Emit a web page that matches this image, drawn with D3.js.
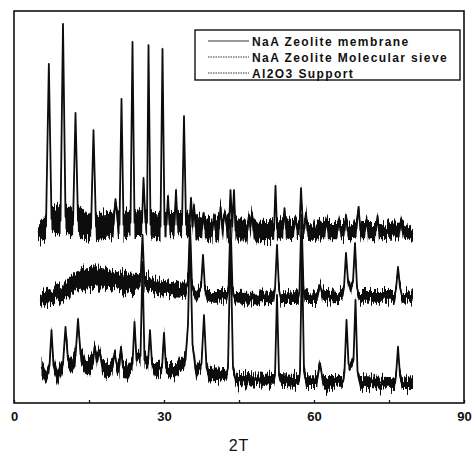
<!DOCTYPE html>
<html>
<head>
<meta charset="utf-8">
<script src="https://cdn.jsdelivr.net/npm/d3@7"></script>
<style>
  body { margin: 0; background: #fff; }
  svg { display: block; font-family: "Liberation Sans", Arial, sans-serif; }
  .axis text { font-size: 13px; font-weight: bold; fill: #111; }
  .axis line { stroke: #111; stroke-width: 1.3; }
  .legend text { font-size: 12px; font-weight: bold; letter-spacing: 1.4px; fill: #111; }
</style>
</head>
<body>
<div id="chart"></div>
<script>

// 2T tick values and labels
var xMinorTicks = [0, 15, 30, 45, 60, 75, 90]
var xTickLabels = [0, 30, 60, 90]

var seriesNames = ['NaA Zeolite membrane', 'NaA Zeolite Molecular sieve', 'Al2O3 Support']

// [2T, intensity (a.u.), noise half-width]
var upperTrace = [
  [4.8, 43.5, 2.5], [6.4, 45, 3.2], [6.97, 86.5, 0.6], [7.5, 47, 3.6], [9.3, 46.5, 3.6],
  [9.8, 96.7, 0.6], [10.3, 47.5, 3.6], [11.8, 45.5, 3.6], [12.3, 74, 0.6], [12.8, 46.5, 3.6],
  [15.4, 44.5, 3.4], [15.9, 69.6, 0.6], [16.4, 45, 3.4], [19.9, 45.5, 3.4], [20.3, 52, 0.6],
  [20.8, 45.5, 3.4], [21.1, 45.5, 3.4], [21.5, 77.6, 0.6], [21.9, 45.5, 3.4], [23.3, 46, 3.4],
  [23.7, 92.1, 0.6], [24.1, 46, 3.4], [25.6, 46, 3.4], [25.9, 57.4, 0.6], [26.3, 46, 3.2],
  [26.6, 46, 3.2], [26.9, 91.3, 0.6], [27.3, 45.5, 3.2], [29.3, 45, 3.2], [29.7, 90.3, 0.6],
  [30.1, 45.5, 3.2], [30.5, 45.5, 3.2], [30.8, 52.8, 0.6], [31.1, 45.5, 3.2], [32.1, 45.5, 3.2],
  [32.4, 54.3, 0.6], [32.7, 45.5, 3.2], [33.6, 45.5, 3.2], [34.0, 73.2, 0.6], [34.4, 45.5, 3.2],
  [35.1, 45, 3.2], [35.4, 52.3, 0.6], [35.7, 45, 3.2], [36.0, 50.5, 0.6], [36.3, 45, 3.2],
  [37.6, 44.5, 3], [37.9, 48.5, 0.8], [38.2, 44.5, 3], [39.7, 44, 3], [40.0, 48, 0.8],
  [40.3, 44, 3], [41.0, 44.5, 3], [41.3, 50, 0.8], [41.7, 44.5, 3], [42.2, 48.7, 0.8],
  [42.6, 44.5, 3], [43.0, 44.5, 3], [43.3, 54.3, 0.6], [43.65, 45, 3], [44.0, 54.3, 0.6],
  [44.3, 44, 2.8], [46.7, 44, 2.8], [47.0, 48, 0.8], [47.3, 45, 2.8], [47.6, 48.5, 0.8],
  [47.9, 44, 2.8], [52.0, 44, 2.6], [52.3, 55.4, 0.6], [52.6, 44.5, 2.6], [53.8, 44.5, 2.6],
  [54.1, 49.7, 0.8], [54.4, 44.5, 2.6], [56.0, 44.5, 2.4], [56.3, 47.4, 0.8], [56.6, 44.5, 2.4],
  [57.1, 44.5, 2.4], [57.4, 54.8, 0.6], [57.8, 44.5, 2.4], [58.1, 44.5, 2.4], [58.4, 48.5, 0.8],
  [58.7, 44, 2.4], [62.2, 44, 2.2], [62.5, 46.7, 1], [62.8, 44, 2.2], [64.7, 44, 2.2],
  [65.0, 46.9, 1], [65.3, 44, 2.2], [66.1, 44, 2.2], [66.4, 48, 0.8], [66.7, 44, 2.2],
  [68.5, 44.5, 2.2], [68.9, 50, 0.8], [69.3, 44, 2.2], [70.2, 44, 2.2], [70.5, 46.7, 1],
  [70.8, 44, 2.2], [72.4, 44, 2.2], [72.7, 47.7, 1], [73.0, 44, 2.2], [77.1, 44, 2],
  [77.4, 46.2, 1], [77.7, 44, 2], [79.8, 43, 1.6]
]

var middleTrace = [
  [5.2, 26.3, 1.8], [7.5, 27.3, 2], [9.8, 28.3, 2.3], [11, 29.6, 2.5], [12.5, 31.1, 2.7],
  [14, 31.6, 2.7], [16.5, 31.9, 2.7], [19, 31.6, 2.5], [21, 31.1, 2.5], [23, 30.6, 2.4],
  [25.3, 31, 2], [25.7, 42.9, 0.6], [26.1, 30.5, 2], [30, 29.1, 2], [34.3, 28.6, 1.8],
  [34.8, 31, 1.4], [35.2, 45.4, 0.6], [35.6, 30, 1.4], [36.2, 27.3, 1.5], [37.4, 29.5, 1.2],
  [37.8, 37.8, 0.6], [38.2, 29, 1.2], [38.6, 27.3, 1.5], [42.6, 27.3, 1.5], [42.9, 29, 1.2],
  [43.3, 46.7, 0.6], [43.7, 29, 1.2], [44.1, 26.8, 1.5], [51.9, 27, 1.5], [52.2, 29, 1.2],
  [52.6, 40.3, 0.6], [53.0, 29, 1.2], [53.3, 27, 1.5], [56.9, 27, 1.5], [57.1, 29, 1.2],
  [57.5, 48, 0.6], [57.9, 29, 1.2], [58.1, 27, 1.5], [60.7, 27, 1.5], [61.2, 30.1, 0.8],
  [61.8, 27, 1.5], [65.7, 27.3, 1.5], [66.0, 29.5, 1.2], [66.4, 38.3, 0.6], [66.8, 31, 1],
  [67.3, 28.8, 1.2], [67.8, 31, 1], [68.2, 40.8, 0.6], [68.6, 29.5, 1.2], [69.0, 27.3, 1.5],
  [76.1, 27.3, 1.5], [76.4, 29, 1.2], [76.8, 34.7, 0.6], [77.2, 29.5, 1.2], [77.6, 27.3, 1.5],
  [79.8, 27.3, 1.4]
]

var lowerTrace = [
  [5.5, 9.2, 2.2], [6.4, 6.6, 2.2], [7.1, 9.5, 1.8], [7.5, 18.6, 0.8], [7.9, 9.5, 1.8],
  [8.8, 6.6, 2.2], [9.8, 10, 2], [10.3, 19.4, 0.8], [10.8, 11, 2], [11.5, 9.8, 2.2],
  [12.3, 12, 2], [12.8, 21.4, 0.8], [13.3, 12.5, 2], [14.2, 10, 2.2], [15.1, 9.2, 2.2],
  [15.8, 10, 1.8], [16.1, 14.3, 1], [16.6, 10.5, 2], [17.1, 13.5, 1], [17.6, 9.5, 2],
  [18.4, 8.4, 2.2], [19.7, 9, 2], [20.1, 12.8, 1], [20.7, 9, 2.2], [21.1, 9.5, 2],
  [21.4, 14.3, 1], [21.8, 9, 2], [22.7, 7.9, 2.2], [23.7, 10, 1.8], [24.1, 20.7, 0.8],
  [24.5, 11, 1.6], [25.3, 12, 1.6], [25.7, 36, 0.6], [26.1, 11, 1.6], [26.8, 10, 1.6],
  [27.2, 18.6, 0.8], [27.6, 10, 1.6], [28.2, 8.4, 2], [29.6, 9, 1.6], [30, 17.9, 0.8],
  [30.4, 9, 1.6], [31, 8.4, 1.8], [32.4, 8.4, 1.8], [34, 10.5, 1.6], [34.3, 11, 1.4],
  [34.8, 20, 1], [35.2, 42.9, 0.6], [35.7, 15, 1], [36.4, 7.7, 1.6], [37.5, 10, 1.4],
  [38, 22.4, 0.6], [38.5, 9, 1.4], [39, 7.1, 1.6], [42.5, 7.4, 1.6], [42.8, 9, 1.4],
  [43.3, 41.6, 0.6], [43.8, 9, 1.4], [44.3, 6.1, 1.6], [52, 5.9, 1.5], [52.2, 7, 1.5],
  [52.6, 27.6, 0.6], [53, 7, 1.5], [53.3, 5.9, 1.5], [57, 5.6, 1.5], [57.2, 8, 1.5],
  [57.6, 39, 0.6], [58.0, 8, 1.5], [58.4, 5.6, 1.5], [60.6, 5.6, 1.5], [61.2, 10.2, 0.8],
  [61.8, 5.4, 1.5], [65.8, 5.4, 1.5], [66.1, 8, 1.3], [66.5, 21.2, 0.6], [66.9, 10, 1],
  [67.4, 9.2, 1], [67.9, 11, 1], [68.3, 26.3, 0.6], [68.7, 8, 1.3], [69.2, 5.4, 1.5],
  [76.2, 5.1, 1.5], [76.4, 7, 1.5], [76.8, 14.3, 0.6], [77.2, 7, 1.5], [77.6, 5.1, 1.5],
  [79.8, 5.1, 1.5]
]

var margin = {top: 11, right: 10, bottom: 50, left: 14}
var width = 474 - margin.left - margin.right,
    height = 453 - margin.top - margin.bottom;

var svg = d3.select("#chart").append("svg")
  .attr("width", 474)
  .attr("height", 453)

// roughen the noise bands column by column, like a scanned diffractogram
var filter = svg.append("defs").append("filter")
  .attr("id", "grain")
  .attr("filterUnits", "userSpaceOnUse")
  .attr("color-interpolation-filters", "sRGB")
  .attr("x", 0).attr("y", 0).attr("width", 474).attr("height", 453)
filter.append("feTurbulence")
  .attr("type", "fractalNoise")
  .attr("baseFrequency", "0.75 0.03")
  .attr("numOctaves", 2)
  .attr("seed", 11)
  .attr("result", "noise")
filter.append("feColorMatrix")
  .attr("in", "noise")
  .attr("type", "matrix")
  .attr("values", "0 0 0 0 0.5  0 1 0 0 0  0 0 1 0 0  0 0 0 0 1")
  .attr("result", "vmap")
filter.append("feDisplacementMap")
  .attr("in", "SourceGraphic")
  .attr("in2", "vmap")
  .attr("scale", 20)
  .attr("xChannelSelector", "R")
  .attr("yChannelSelector", "G")

var chart = svg.append("g")
  .attr("transform", "translate(" + margin.left + "," + margin.top + ")")

var xScale = d3.scaleLinear()
  .domain([0, 90])
  .range([0, width]);

var yScale = d3.scaleLinear()
  .domain([0, 100])
  .range([height, 0]);

var xAxis = d3.axisBottom(xScale)
  .tickValues(xMinorTicks)
  .tickSize(-3)
  .tickPadding(9)
  .tickFormat(function(d) { return xTickLabels.indexOf(d) > -1 ? d : ""; });

chart.append("g")
  .attr("class", "x axis")
  .attr("transform", "translate(0," + height + ")")
  .call(xAxis)
  .call(function(g) { g.select(".domain").remove(); });

var band = d3.area()
  .x(function(d) { return xScale(d[0]); })
  .y0(function(d) { return yScale(d[1] - d[2]); })
  .y1(function(d) { return yScale(d[1] + d[2]); });

var line = d3.line()
  .x(function(d) { return xScale(d[0]); })
  .y(function(d) { return yScale(d[1]); });

[upperTrace, middleTrace, lowerTrace].forEach(function(trace) {
  chart.append("path")
    .datum(trace)
    .attr("d", band)
    .attr("fill", "#0d0d0d")
    .attr("filter", "url(#grain)")

  chart.append("path")
    .datum(trace)
    .attr("d", line)
    .attr("fill", "none")
    .attr("stroke", "#0d0d0d")
    .attr("stroke-width", 1.8)
    .attr("stroke-linejoin", "round")
});

// frame
chart.append("rect")
  .attr("x", 0)
  .attr("y", 0)
  .attr("width", width)
  .attr("height", height)
  .attr("fill", "none")
  .attr("stroke", "#111")
  .attr("stroke-width", 1.6)

chart.append("text")
  .attr("x", width / 2)
  .attr("y", height + 48)
  .attr("text-anchor", "middle")
  .style("font-size", "16px")
  .style("letter-spacing", "1px")
  .style("fill", "#111")
  .text("2T")

// legend
var legend = chart.append("g")
  .attr("class", "legend")
  .attr("transform", "translate(181,19)")

legend.append("rect")
  .attr("width", 265)
  .attr("height", 50)
  .attr("fill", "#fff")
  .attr("stroke", "#111")
  .attr("stroke-width", 1.4)

var dashes = [null, "1.5,1", "1.5,1"]

legend.selectAll(".entry")
  .data(seriesNames)
  .enter().append("g")
  .attr("class", "entry")
  .attr("transform", function(d, i) { return "translate(0," + (11 + i * 16) + ")"; })
  .each(function(d, i) {
    var g = d3.select(this)
    g.append("line")
      .attr("x1", 13).attr("x2", 54)
      .attr("y1", 0).attr("y2", 0)
      .attr("stroke", "#333")
      .attr("stroke-width", 1)
      .attr("stroke-dasharray", dashes[i])
    g.append("text")
      .attr("x", 57)
      .attr("y", 4.5)
      .text(d)
  });

</script>
</body>
</html>
